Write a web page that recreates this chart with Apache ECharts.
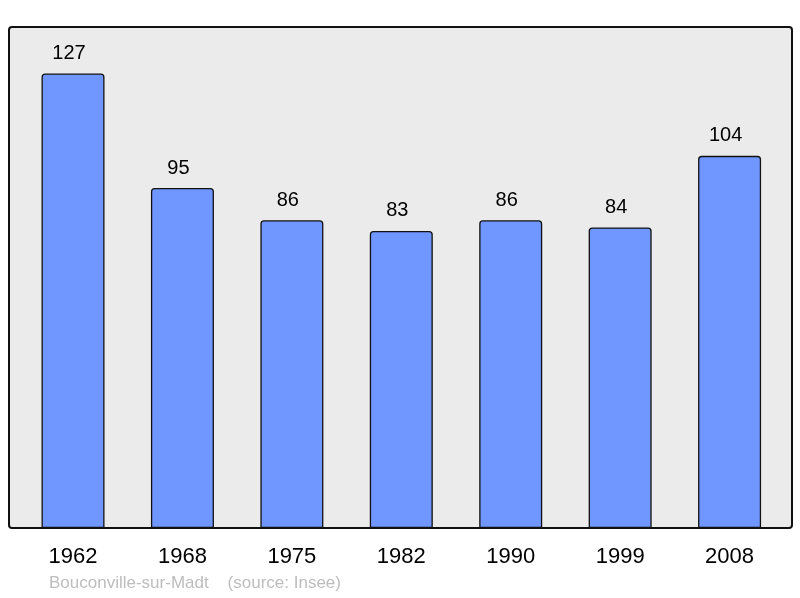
<!DOCTYPE html>
<html>
<head>
<meta charset="utf-8">
<script src="https://cdn.jsdelivr.net/npm/echarts@6/dist/echarts.min.js"></script>
<style>html,body{margin:0;padding:0;background:#fff;}#c{width:800px;height:598px;}</style>
</head>
<body>
<div id="c"></div>
<script>
const categories = ['1962', '1968', '1975', '1982', '1990', '1999', '2008'];
const population = [127, 95, 86, 83, 86, 84, 104];
const footerText = 'Bouconville-sur-Madt    (source: Insee)';

const chart = echarts.init(document.getElementById('c'), null, {renderer: 'canvas'});
chart.setOption({
  animation: false,
  backgroundColor: '#ffffff',
  title: {
    text: footerText,
    left: 44, top: 570,
    textStyle: {fontFamily: 'Liberation Sans', fontSize: 17, fontWeight: 'normal', color: '#bdbdbd'}
  },
  graphic: [{
    type: 'rect', z: -1,
    shape: {x: 9, y: 27, width: 783, height: 501, r: 3},
    style: {fill: '#ebebeb', stroke: '#111', lineWidth: 2}
  }],
  grid: {left: 18.3, top: 27, width: 766, height: 501, containLabel: false},
  xAxis: {
    type: 'category', data: categories,
    axisLine: {show: false}, axisTick: {show: false},
    axisLabel: {fontFamily: 'Liberation Sans', fontSize: 22, color: '#000', margin: 18}
  },
  yAxis: {type: 'value', min: 0, max: 140, show: false, splitLine: {show: false}},
  series: [{
    type: 'bar', data: population, barWidth: 63,
    itemStyle: {color: '#7097ff', borderColor: '#111', borderWidth: 1.3, borderRadius: [3, 3, 0, 0]},
    label: {show: true, position: 'top', distance: 10, offset: [-4, 0], fontFamily: 'Liberation Sans', fontSize: 20, color: '#000'}
  }]
});
</script>
</body>
</html>
